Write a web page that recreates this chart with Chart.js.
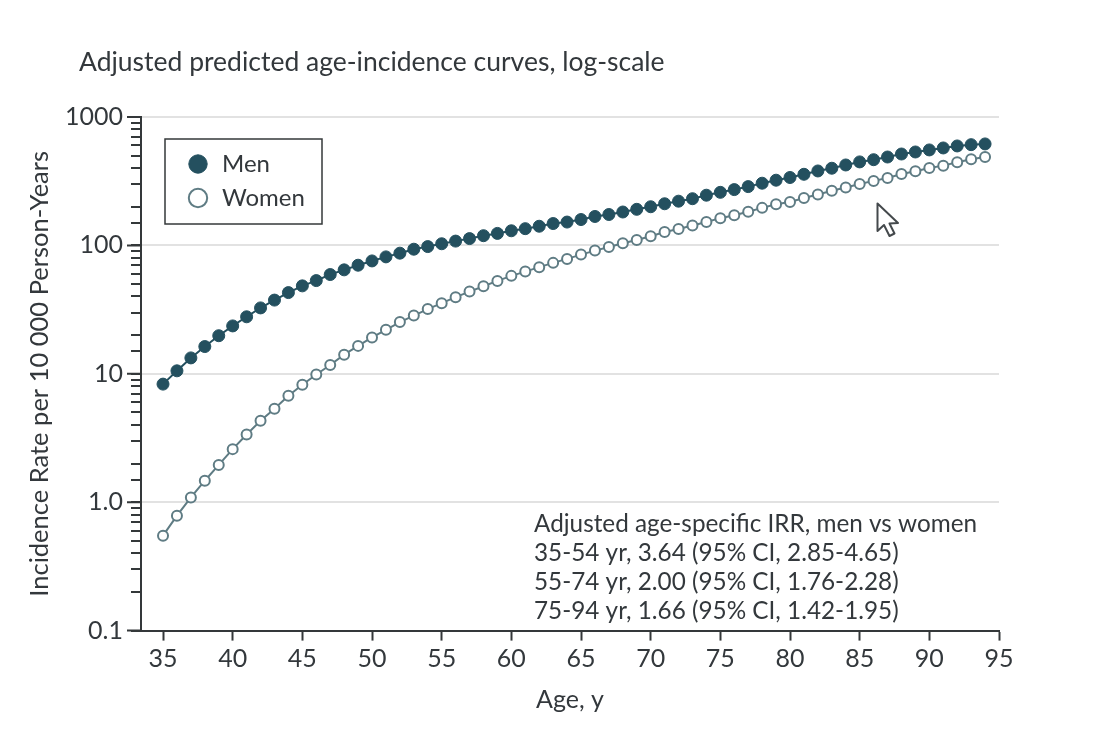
<!DOCTYPE html>
<html>
<head>
<meta charset="utf-8">
<style>
html,body{margin:0;padding:0;background:#fff;}
#wrap{position:relative;width:1112px;height:731px;}
canvas{display:block;}
#cursor{position:absolute;left:870px;top:198px;}
</style>
<script src="https://cdn.jsdelivr.net/npm/chart.js@4/dist/chart.umd.min.js"></script>
</head>
<body>
<div id="wrap">
<canvas id="c" width="1112" height="731"></canvas>
<svg id="cursor" width="36" height="44" viewBox="0 0 36 44"><path d="M7.5 5.5 L7.5 33 L14 27 L19.5 38 L24.5 35.5 L19.5 25.5 L28 25 Z" fill="#fff" stroke="#44494c" stroke-width="2" stroke-linejoin="round"/></svg>
</div>
<script>
const chartTitle = "Adjusted predicted age-incidence curves, log-scale";
const xAxisTitle = "Age, y";
const yAxisTitle = "Incidence Rate per 10 000 Person-Years";
const ages = [35,36,37,38,39,40,41,42,43,44,45,46,47,48,49,50,51,52,53,54,55,56,57,58,59,60,61,62,63,64,65,66,67,68,69,70,71,72,73,74,75,76,77,78,79,80,81,82,83,84,85,86,87,88,89,90,91,92,93,94];
const men = [8.31,10.55,13.3,16.3,19.8,23.6,27.8,32.6,37.5,42.9,48.4,53.2,59.3,64.5,70.1,75.7,81.4,87,93.4,97.9,103,108,113,119,124,130,135,141,148,152,159,168,174,182,191,200,211,221,231,246,259,272,287,305,322,338,358,380,399,423,447,465,488,515,534,554,574,595,609,617];
const women = [0.549,0.785,1.09,1.47,1.95,2.59,3.37,4.31,5.34,6.74,8.21,9.88,11.7,14.1,16.5,19.2,22,25.3,28.4,31.9,35.5,39.5,43.7,48.1,52.9,57.9,62.5,67.7,73.1,78.5,84.8,91.1,97.3,104,110,118,127,134,143,152,163,172,183,196,209,218,234,249,266,282,301,318,335,360,378,401,418,444,469,488];
const xTicks = [35,40,45,50,55,60,65,70,75,80,85,90,95];
const yTickValues = [0.1,1,10,100,1000];
const yTickLabels = ["0.1","1.0","10","100","1000"];
const noteLines = ["Adjusted age-specific IRR, men vs women","35-54 yr, 3.64 (95% CI, 2.85-4.65)","55-74 yr, 2.00 (95% CI, 1.76-2.28)","75-94 yr, 1.66 (95% CI, 1.42-1.95)"];

const FONT = "Lato";
const INK = "#33383c";
const AXIS = "#34383a";
const MEN = "#24505f";
const WOMEN = "#5f7c84";
const isMajor = v => yTickValues.some(m => Math.abs(m - v) < 1e-9 * m + 1e-9);

const decor = {
  id: "decor",
  afterLayout(chart) {
    const l = chart.legend;
    l.left = 176; l.top = 142; l.right = l.left + l.width; l.bottom = l.top + l.height;
    const t = chart.titleBlock;
    t.left = 79; t.right = t.left + t.width; t.top = 47; t.bottom = t.top + t.height;
  },
  beforeDatasetsDraw(chart) {
    const g = chart.ctx, y = chart.scales.y, a = chart.chartArea;
    g.save();
    g.strokeStyle = AXIS; g.lineWidth = 2;
    g.beginPath();
    yTickValues.forEach(v => { const p = y.getPixelForValue(v); g.moveTo(127, p); g.lineTo(a.left, p); });
    g.stroke();
    g.restore();
  },
  afterDatasetsDraw(chart) {
    const g = chart.ctx;
    g.save();
    g.fillStyle = INK; g.font = "24.3px " + FONT; g.textBaseline = "middle"; g.textAlign = "left";
    noteLines.forEach((s, i) => g.fillText(s, 534, 524 + i * 29));
    g.restore();
  },
  beforeDraw(chart) {
    const g = chart.ctx;
    g.save();
    g.strokeStyle = AXIS; g.lineWidth = 1.5;
    g.strokeRect(165, 139, 157, 85);
    g.restore();
  }
};

new Chart(document.getElementById("c"), {
  type: "line",
  plugins: [decor],
  data: {
    datasets: [
      { label: "Men", data: ages.map((a,i)=>({x:a,y:men[i]})), borderColor: MEN, backgroundColor: MEN, borderWidth: 2,
        pointRadius: 6, pointBackgroundColor: MEN, pointBorderColor: MEN, pointBorderWidth: 1, pointStyle: "circle", tension: 0, order: 1 },
      { label: "Women", data: ages.map((a,i)=>({x:a,y:women[i]})), borderColor: WOMEN, backgroundColor: "#fff", borderWidth: 2,
        pointRadius: 5, pointBackgroundColor: "#fff", pointBorderColor: WOMEN, pointBorderWidth: 2, pointStyle: "circle", tension: 0, order: 2 }
    ]
  },
  options: {
    responsive: false, animation: false, devicePixelRatio: 1,
    layout: { padding: { left: 24, right: 113, top: 46, bottom: 16.4 } },
    plugins: {
      tooltip: { enabled: false },
      title: { display: true, text: chartTitle, align: "start", color: INK, font: { family: FONT, size: 26.5, weight: "normal", lineHeight: 1.2 }, padding: { top: 0, bottom: 39.2 } },
      legend: { display: true, position: "chartArea", align: "start",
        labels: { usePointStyle: true, color: INK, boxHeight: 13, padding: 10, font: { family: FONT, size: 24 } } }
    },
    scales: {
      x: { type: "linear", min: 33.42, max: 95,
        afterBuildTicks: s => { s.ticks = xTicks.map(v => ({ value: v })); },
        border: { color: AXIS, width: 2 },
        grid: { drawOnChartArea: false, drawTicks: true, tickLength: 10, tickColor: AXIS, tickWidth: 2 },
        ticks: { color: INK, maxRotation: 0, autoSkip: false, padding: 3, font: { family: FONT, size: 25 }, callback: v => String(v) },
        title: { display: true, text: xAxisTitle, color: INK, font: { family: FONT, size: 25 }, padding: { top: 8, bottom: 0 } }
      },
      y: { type: "logarithmic", min: 0.1, max: 1000,
        border: { color: AXIS, width: 2 },
        grid: { color: c => isMajor(c.tick.value) ? "#e2e2e2" : "rgba(0,0,0,0)", lineWidth: 2, drawTicks: true, tickLength: 10, tickColor: AXIS, tickWidth: 2 },
        ticks: { color: INK, autoSkip: false, padding: 8, font: { family: FONT, size: 25 },
          callback: v => { const i = yTickValues.findIndex(m => Math.abs(m - v) < 1e-9); return i >= 0 ? yTickLabels[i] : ""; } },
        title: { display: true, text: yAxisTitle, color: INK, font: { family: FONT, size: 25.5 }, padding: { top: 0, bottom: 10 } },
        afterFit: s => { s.width = 117; }
      }
    }
  }
});
</script>
</body>
</html>
